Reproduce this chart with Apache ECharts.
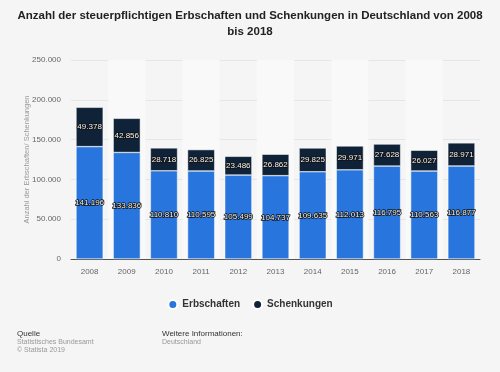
<!DOCTYPE html>
<html><head><meta charset="utf-8">
<script src="https://cdn.jsdelivr.net/npm/echarts@6/dist/echarts.min.js"></script>
<style>html,body{margin:0;padding:0;background:#f5f5f5}#c{width:500px;height:372px}</style>
</head><body><div id="c"></div>
<script>
const years = ['2008','2009','2010','2011','2012','2013','2014','2015','2016','2017','2018'];
const erbschaften = [141196,133836,110810,110595,105499,104737,109635,112013,116795,110563,116877];
const schenkungen = [49378,42856,28718,26825,23486,26862,29825,29971,27628,26027,28971];
const yTicks = [0,50000,100000,150000,200000,250000];

const F = 'Arial, Liberation Sans, sans-serif';
const fmt = v => v.toLocaleString('de-DE');
const lbl = {show:true, position:'inside', color:'#f2f2f2', fontSize:8, fontFamily:F,
  textBorderColor:'#111', textBorderWidth:1.5, formatter:p=>fmt(p.value)};
const chart = echarts.init(document.getElementById('c'));
chart.setOption({
  backgroundColor:'#f5f5f5',
  animation:false,
  title:{text:'Anzahl der steuerpflichtigen Erbschaften und Schenkungen in Deutschland von 2008\nbis 2018',
    left:'center', top:3, textStyle:{fontSize:11.5, fontWeight:'bold', color:'#222', lineHeight:16, fontFamily:F}},
  grid:{left:71, right:20, top:60, bottom:113},
  legend:{bottom:57, left:'center', icon:'circle', itemWidth:9, itemHeight:9, itemGap:12,
    textStyle:{fontSize:10, fontWeight:'bold', color:'#333', fontFamily:F},
    data:['Erbschaften','Schenkungen']},
  xAxis:{type:'category', data:years,
    axisLine:{lineStyle:{color:'#555'}}, axisTick:{show:false},
    axisLabel:{color:'#666', fontSize:8, margin:9, fontFamily:F},
    splitArea:{show:true, areaStyle:{color:['rgba(255,255,255,0)','#f9f9f9']}}},
  yAxis:{type:'value', min:0, max:250000, interval:50000,
    name:'Anzahl der Erbschaften/ Schenkungen', nameLocation:'middle', nameGap:40, nameRotate:90,
    nameMoveOverlap:false,
    nameTextStyle:{color:'#999', fontSize:7.5, fontFamily:F},
    axisLabel:{color:'#666', fontSize:8, margin:10, fontFamily:F,
      formatter:v=>yTicks.includes(v)?fmt(v):''},
    splitLine:{lineStyle:{color:'#e6e6e6'}}, axisLine:{show:false}, axisTick:{show:false}},
  series:[
    {name:'Erbschaften', type:'bar', stack:'a', data:erbschaften, barWidth:'73%',
      itemStyle:{color:'#2876dd', borderColor:'#fff', borderWidth:0.5}, label:lbl},
    {name:'Schenkungen', type:'bar', stack:'a', data:schenkungen,
      itemStyle:{color:'#0f2238', borderColor:'#fff', borderWidth:0.5}, label:lbl}
  ],
  graphic:[
    {type:'text', left:17, top:330, style:{text:'Quelle', fontSize:8, fill:'#333', fontFamily:F}},
    {type:'text', left:17, top:339, style:{text:'Statistisches Bundesamt', fontSize:7, fill:'#999', fontFamily:F}},
    {type:'text', left:17, top:347, style:{text:'© Statista 2019', fontSize:7, fill:'#999', fontFamily:F}},
    {type:'text', left:162, top:330, style:{text:'Weitere Informationen:', fontSize:8, fill:'#333', fontFamily:F}},
    {type:'text', left:162, top:339, style:{text:'Deutschland', fontSize:7, fill:'#999', fontFamily:F}}
  ]
});
</script></body></html>
